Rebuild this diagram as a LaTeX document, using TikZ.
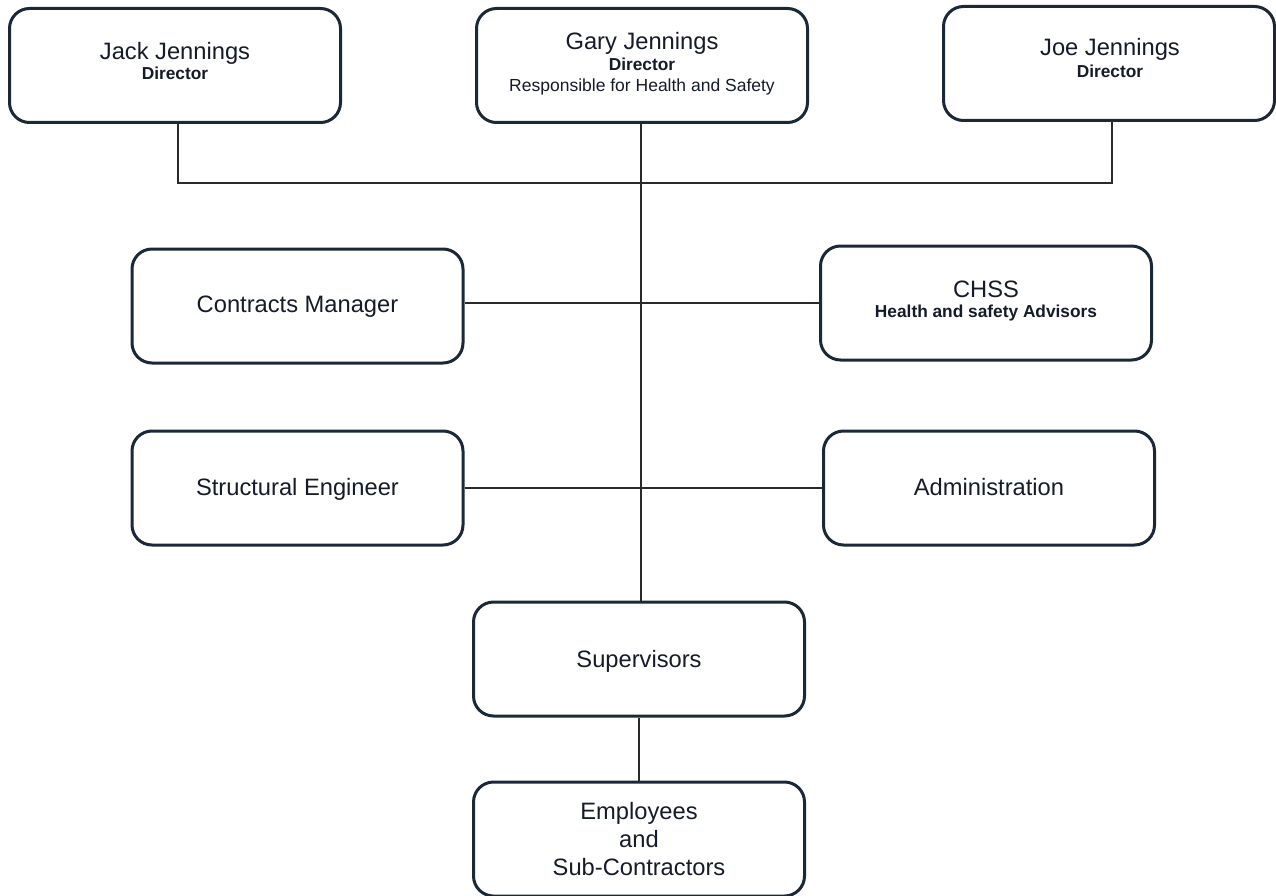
\documentclass[tikz,border=0pt]{standalone}
\usepackage{fontspec}
\setmainfont{Liberation Sans}
\definecolor{boxline}{HTML}{1B2838}
\definecolor{txt}{HTML}{151B29}
\definecolor{conn}{HTML}{2A2A2A}
\tikzset{
  box/.style={draw=boxline, line width=3pt, rounded corners=20pt, fill=white,
    minimum width=331pt, minimum height=114pt, inner sep=0pt},
  big/.style={anchor=base, inner sep=0pt, text=txt, font=\fontsize{23.7}{28}\selectfont},
  smallb/.style={anchor=base, inner sep=0pt, text=txt, font=\fontsize{17.3}{20}\selectfont\bfseries},
  smallr/.style={anchor=base, inner sep=0pt, text=txt, font=\fontsize{17.5}{20}\selectfont},
  link/.style={draw=conn, line width=1.6pt}
}
\begin{document}
\begin{tikzpicture}[x=1pt,y=-1pt]
\useasboundingbox (0,0) rectangle (1276,896);
% boxes
\node[box] (jack) at (175,65.5) {};
\node[box] (gary) at (642,65.5) {};
\node[box] (joe) at (1109,63.5) {};
\node[box] (contracts) at (297.5,306) {};
\node[box] (chss) at (986,303) {};
\node[box] (structural) at (297.5,488) {};
\node[box] (admin) at (989,488) {};
\node[box] (super) at (639,659) {};
\node[box] (employees) at (639,839) {};
% connectors
\coordinate (bus) at (641,183);
\draw[link] ([xshift=3pt]jack.south) -- ([xshift=3pt]jack.south |- bus) -- ([xshift=3pt]joe.south |- bus) -- ([xshift=3pt]joe.south);
\draw[link] ([xshift=-1pt]gary.south) -- ([xshift=-1pt]gary.south |- super.north);
\draw[link] (contracts.east |- chss.west) -- (chss.west);
\draw[link] (structural.east) -- (admin.west);
\draw[link] (super.south) -- (employees.north);
% texts
\node[big] (jackname) at (175,60) {Jack Jennings};
\node[smallb] (jackrole) at (175,80) {Director};
\node[big] (garyname) at (642,50) {Gary Jennings};
\node[smallb] (garyrole) at (642,71) {Director};
\node[smallr] (garyresp) at (642,92) {Responsible for Health and Safety};
\node[big] (joename) at (1110,56) {Joe Jennings};
\node[smallb] (joerole) at (1110,78) {Director};
\node[big] (chssname) at (986,297) {CHSS};
\node[smallb] (chssrole) at (986,317) {Health and safety Advisors};
\node[big] (contractstxt) at (297.5,312) {Contracts Manager};
\node[big] (structuraltxt) at (297.5,495) {Structural Engineer};
\node[big] (admintxt) at (989,495) {Administration};
\node[big] (supertxt) at (639,667) {Supervisors};
\node[big] (emp1) at (639,819) {Employees};
\node[big] (emp2) at (639,847) {and};
\node[big] (emp3) at (639,875) {Sub-Contractors};
\end{tikzpicture}
\end{document}
